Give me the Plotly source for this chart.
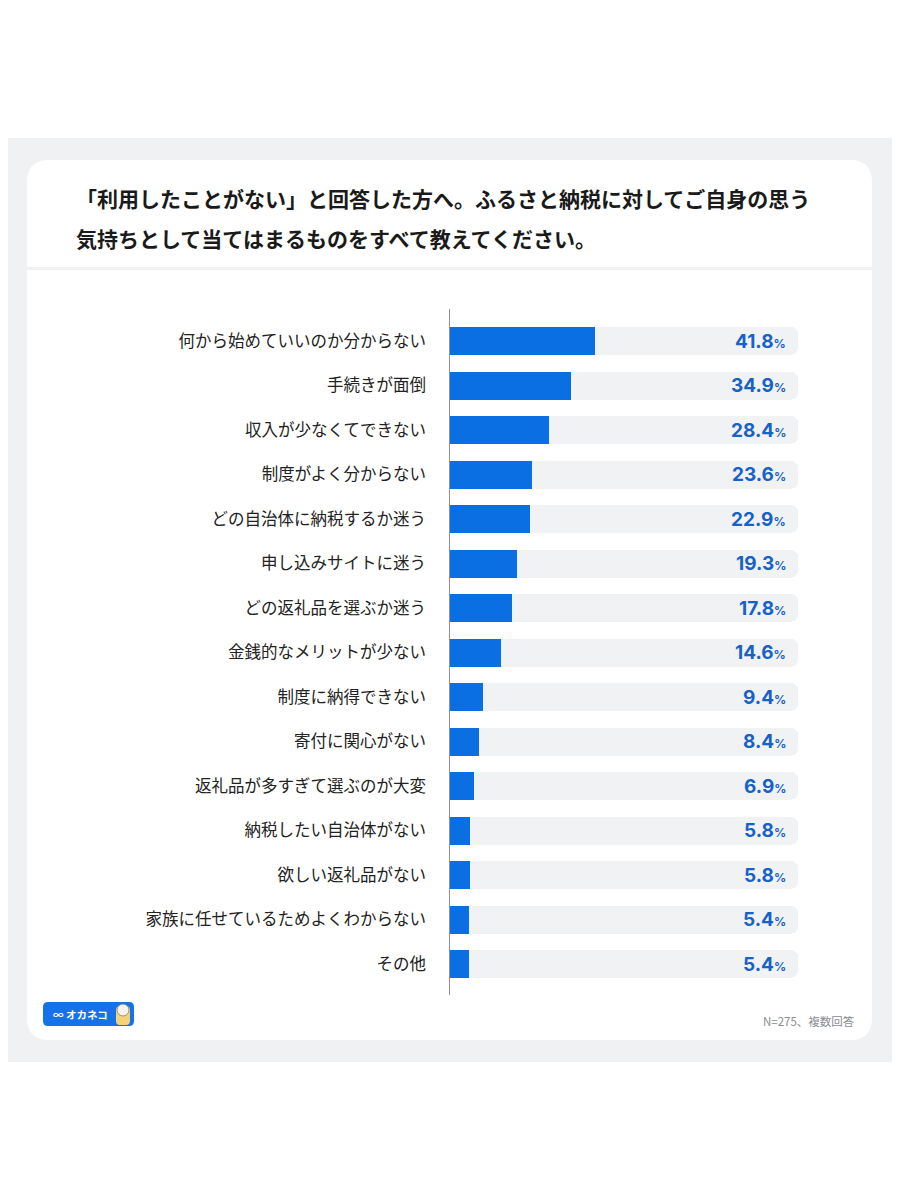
import plotly.graph_objects as go

categories = [
    "何から始めていいのか分からない",
    "手続きが面倒",
    "収入が少なくてできない",
    "制度がよく分からない",
    "どの自治体に納税するか迷う",
    "申し込みサイトに迷う",
    "どの返礼品を選ぶか迷う",
    "金銭的なメリットが少ない",
    "制度に納得できない",
    "寄付に関心がない",
    "返礼品が多すぎて選ぶのが大変",
    "納税したい自治体がない",
    "欲しい返礼品がない",
    "家族に任せているためよくわからない",
    "その他",
]
values = [41.8, 34.9, 28.4, 23.6, 22.9, 19.3, 17.8, 14.6, 9.4, 8.4, 6.9, 5.8, 5.8, 5.4, 5.4]
track_max = 100

title_lines = [
    "「利用したことがない」と回答した方へ。ふるさと納税に対してご自身の思う",
    "気持ちとして当てはまるものをすべて教えてください。",
]
footnote = "N=275、複数回答"
logo_text = "∞ オカネコ"

W, H = 900, 1200
OFF = 8  # page body margin compensation
FONT = "Noto Sans CJK JP"
BLUE = "#0b6fe4"
TRACK = "#f1f2f4"
PANEL = "#f0f1f3"
VALUE_COLOR = "#1762c8"


def px(x):
    return (x - OFF) / W


def py(y):
    return 1 - (y - OFF) / H


def rounded_rect(x0, y0, x1, y1, r):
    X0, X1 = px(x0), px(x1)
    return (
        f"M {px(x0 + r)} {py(y0)} L {px(x1 - r)} {py(y0)} "
        f"Q {X1} {py(y0)} {X1} {py(y0 + r)} L {X1} {py(y1 - r)} "
        f"Q {X1} {py(y1)} {px(x1 - r)} {py(y1)} L {px(x0 + r)} {py(y1)} "
        f"Q {X0} {py(y1)} {X0} {py(y1 - r)} L {X0} {py(y0 + r)} "
        f"Q {X0} {py(y0)} {px(x0 + r)} {py(y0)} Z"
    )


row_top, row_step = 341 - 22.25, 44.5
n = len(categories)
row_bottom = row_top + n * row_step

fig = go.Figure()
fig.add_trace(go.Bar(
    y=categories, x=[track_max] * n, orientation="h",
    marker=dict(color=TRACK, line=dict(width=0)), width=0.63,
    hoverinfo="skip", showlegend=False,
))
fig.add_trace(go.Bar(
    y=categories, x=values, orientation="h",
    marker=dict(color=BLUE, line=dict(width=0)), width=0.63,
    showlegend=False,
))

shapes = [
    dict(type="rect", xref="paper", yref="paper", x0=px(4), x1=px(895), y0=py(1062), y1=py(138),
         fillcolor=PANEL, line=dict(width=0), layer="below"),
    dict(type="path", xref="paper", yref="paper", path=rounded_rect(27, 160, 872, 1040, 22),
         fillcolor="white", line=dict(width=0), layer="below"),
    dict(type="rect", xref="paper", yref="paper", x0=px(27), x1=px(872), y0=py(270), y1=py(267),
         fillcolor=PANEL, line=dict(width=0), layer="below"),
    dict(type="line", xref="paper", yref="paper", x0=px(449.5), x1=px(449.5), y0=py(309), y1=py(995),
         line=dict(color="#8f939b", width=1), layer="above"),
    dict(type="path", xref="paper", yref="paper", path=rounded_rect(43, 1002, 134, 1026, 5),
         fillcolor="#1572e8", line=dict(width=0), layer="above"),
    dict(type="path", xref="paper", yref="paper", path=rounded_rect(116, 1006, 130, 1025, 4),
         fillcolor="#f3d37a", line=dict(width=0), layer="above"),
    dict(type="circle", xref="paper", yref="paper", x0=px(117), x1=px(129), y0=py(1016), y1=py(1004),
         fillcolor="#f7f3ea", line=dict(color="#8a7a60", width=0.8), layer="above"),
]

annotations = []
for i, line in enumerate(title_lines):
    annotations.append(dict(
        xref="paper", yref="paper", x=px(74), y=py(198 + 40 * i), xanchor="left", yanchor="middle",
        text=f"<b>{line}</b>", showarrow=False, font=dict(family=FONT, size=21, color="#1a1a1a"),
    ))
for cat, v in zip(categories, values):
    annotations.append(dict(
        xref="paper", y=cat, yref="y", x=px(788), xanchor="right", yanchor="middle",
        text=f"<b>{v:.1f}</b><span style='font-size:12px'><b>%</b></span>", showarrow=False,
        font=dict(family="Inter", size=19, color=VALUE_COLOR),
    ))
annotations.append(dict(
    xref="paper", yref="paper", x=px(857), y=py(1021), xanchor="right", yanchor="middle",
    text=footnote, showarrow=False, font=dict(family=FONT, size=11.5, color="#8a8d93"),
))
annotations.append(dict(
    xref="paper", yref="paper", x=px(51), y=py(1014), xanchor="left", yanchor="middle",
    text=f"<b>{logo_text}</b>", showarrow=False, font=dict(family=FONT, size=10.5, color="white"),
))

fig.update_layout(
    width=W, height=H, autosize=False,
    margin=dict(l=0, r=0, t=0, b=0),
    paper_bgcolor="white", plot_bgcolor="rgba(0,0,0,0)",
    barmode="overlay", barcornerradius=7, bargap=0,
    xaxis=dict(domain=[px(450), px(450 + 348)], range=[0, track_max], visible=False, fixedrange=True),
    yaxis=dict(
        domain=[py(row_bottom), py(row_top)], range=[n - 0.5, -0.5],
        categoryorder="array", categoryarray=categories,
        showline=False, showgrid=False, zeroline=False, ticks="",
        ticklabelstandoff=23,
        tickfont=dict(family=FONT, size=16.5, color="#222222"),
    ),
    shapes=shapes, annotations=annotations,
    showlegend=False,
)

fig.write_html("out.html")
